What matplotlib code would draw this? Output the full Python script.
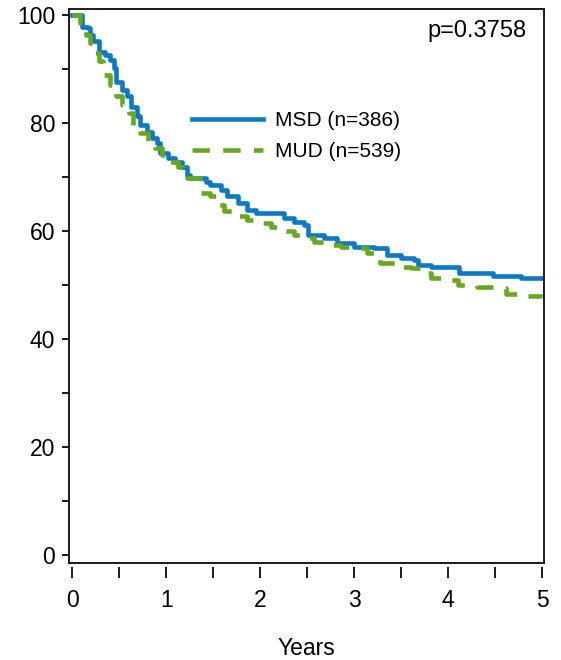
import matplotlib
matplotlib.use("Agg")
import matplotlib.pyplot as plt

plt.rcParams['font.family'] = ['Liberation Sans', 'DejaVu Sans']

# Kaplan-Meier style survival estimates (years, percent surviving)
msd_years = [0.00, 0.10, 0.17, 0.19, 0.22, 0.28, 0.35, 0.40, 0.44, 0.47,
             0.53, 0.58, 0.63, 0.69, 0.72, 0.79, 0.85, 0.90, 0.93, 1.02,
             1.09, 1.17, 1.22, 1.25, 1.36, 1.42, 1.47, 1.58, 1.65, 1.76,
             1.86, 1.95, 2.18, 2.25, 2.36, 2.47, 2.51, 2.68, 2.82, 3.00,
             3.21, 3.35, 3.50, 3.64, 3.68, 3.82, 4.12, 4.48, 4.78, 5.00]
msd_surv = [100.0, 97.8, 97.5, 96.3, 95.1, 93.2, 92.6, 91.7, 90.1, 87.6,
            86.1, 84.9, 83.0, 81.2, 79.6, 78.4, 77.2, 76.2, 74.4, 73.5,
            72.8, 71.9, 70.4, 69.8, 69.8, 69.1, 68.5, 67.6, 66.4, 65.1,
            63.9, 63.3, 63.3, 62.3, 61.7, 61.1, 59.3, 58.6, 57.7, 57.1,
            56.8, 55.6, 54.9, 54.6, 53.7, 53.4, 52.2, 51.7, 51.3, 51.3]

mud_years = [0.00, 0.08, 0.15, 0.19, 0.24, 0.28, 0.33, 0.40, 0.46, 0.53,
             0.60, 0.65, 0.72, 0.81, 0.88, 0.95, 1.04, 1.13, 1.18, 1.22,
             1.36, 1.47, 1.54, 1.61, 1.76, 1.86, 2.00, 2.11, 2.25, 2.36,
             2.50, 2.57, 2.75, 2.86, 3.07, 3.14, 3.28, 3.50, 3.60, 3.75,
             3.82, 4.00, 4.10, 4.31, 4.56, 4.62, 4.81, 5.00]
mud_surv = [100.0, 98.5, 96.3, 94.8, 92.9, 91.4, 88.9, 87.0, 84.9, 83.3,
            81.8, 79.6, 78.1, 76.5, 75.3, 74.1, 72.8, 71.9, 71.0, 69.8,
            67.0, 66.4, 64.8, 63.6, 62.7, 62.0, 61.4, 60.8, 59.9, 59.3,
            58.6, 58.0, 57.4, 57.1, 56.8, 55.9, 54.0, 53.4, 53.1, 52.2,
            51.2, 50.9, 50.0, 49.7, 49.4, 48.4, 47.9, 47.8]

msd_label = "MSD (n=386)"
mud_label = "MUD (n=539)"
p_text = "p=0.3758"

blue = "#0a7ac6"
green = "#66a81e"

fig = plt.figure(figsize=(5.61, 6.60), dpi=100)
ax = fig.add_axes([0.1230, 0.1470, 0.8466, 0.8394])

ax.plot(msd_years, msd_surv, drawstyle='steps-post', color=blue, lw=3.3,
        label=msd_label)
ax.plot(mud_years, mud_surv, drawstyle='steps-post', color=green, lw=3.3,
        linestyle=(0, (3.8, 2.9)), label=mud_label)

ax.set_xlim(-0.035, 5.02)
ax.set_ylim(-1.5, 101.1)

ax.set_xticks([0, 1, 2, 3, 4, 5])
ax.set_xticks([0.5, 1.5, 2.5, 3.5, 4.5], minor=True)
ax.set_yticks([0, 20, 40, 60, 80, 100])
ax.set_yticks([10, 30, 50, 70, 90], minor=True)

for s in ax.spines.values():
    s.set_linewidth(1.4)
    s.set_color('#1a1a1a')

# bottom ticks sit a little below the frame edge
ax.spines['bottom'].set_position(('outward', 3))
ax.spines['bottom'].set_visible(False)
ax.plot([0, 1], [0, 0], transform=ax.transAxes, color='#1a1a1a', lw=1.4,
        clip_on=False, solid_capstyle='projecting')

ax.tick_params(axis='both', which='both', direction='out', width=1.4,
               color='#1a1a1a', labelsize=16.5, labelcolor='black')
ax.tick_params(axis='x', which='both', length=8, pad=8)
ax.tick_params(axis='y', which='both', length=5, pad=5)

ax.set_xlabel("Years", fontsize=16.5, labelpad=18)

leg = ax.legend(loc='upper left', bbox_to_anchor=(0.259, 0.815), frameon=False,
                fontsize=15, handlelength=3.4, handletextpad=0.6,
                labelspacing=0.55, borderpad=0, borderaxespad=0)

ax.text(0.964, 0.981, p_text, transform=ax.transAxes, ha='right', va='top',
        fontsize=17)

fig.savefig("out.png", dpi=100)
